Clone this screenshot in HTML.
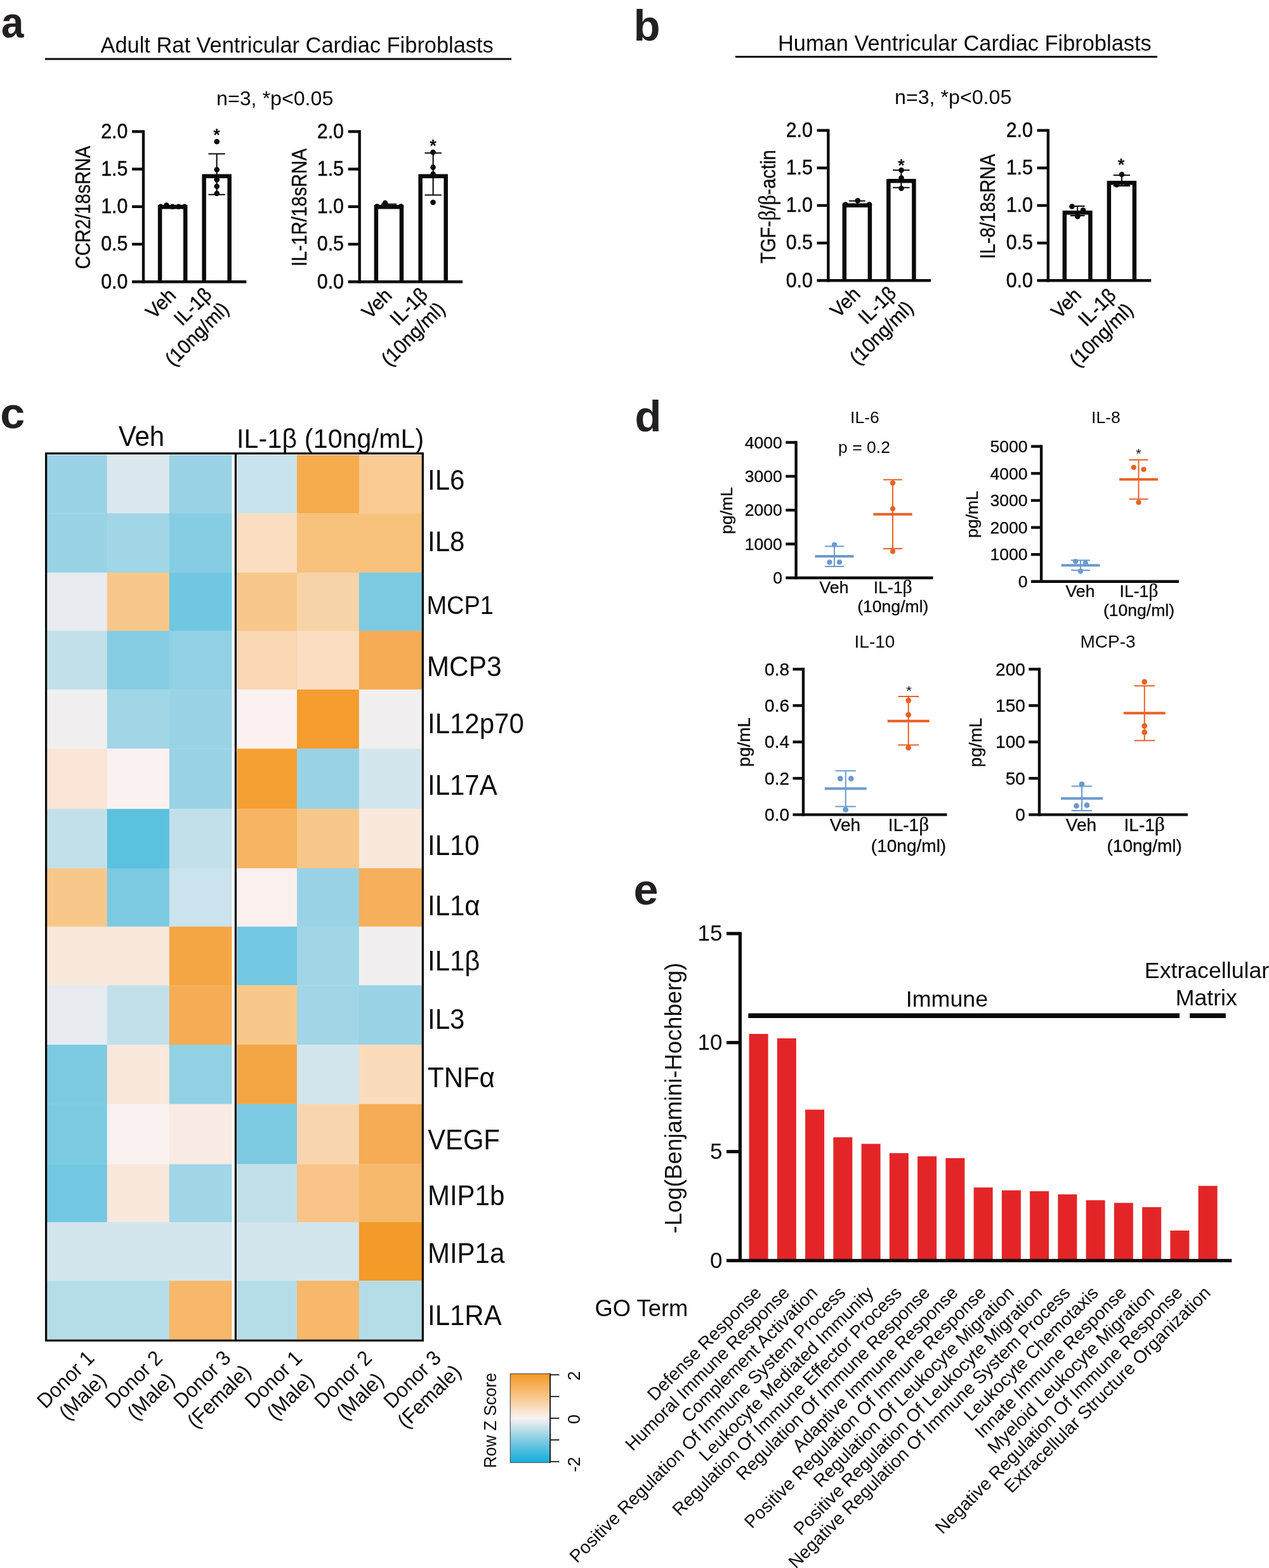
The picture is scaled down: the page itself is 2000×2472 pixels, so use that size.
<!DOCTYPE html>
<html lang="en">
<head>
<meta charset="utf-8">
<title>Figure</title>
<style>
html,body{margin:0;padding:0;background:#fff;}
body{width:2000px;height:2472px;overflow:hidden;}
svg{display:block;font-family:"Liberation Sans", sans-serif;fill:#0a0a0a;}
</style>
</head>
<body>
<svg width="2000" height="2472" viewBox="0 0 2000 2472">
<rect width="2000" height="2472" fill="#fff"/>
<!-- panel labels -->
<text transform="translate(1.90 59.40) scale(0.96 1.03)" font-size="66.5" font-weight="bold" fill="#231f20">a</text>
<text transform="translate(998.40 64.00) scale(1.035 1.03)" font-size="66.5" font-weight="bold" fill="#231f20">b</text>
<text transform="translate(0.30 675.00) scale(1.055 1.03)" font-size="66.5" font-weight="bold" fill="#231f20">c</text>
<text transform="translate(1000.60 680.00) scale(1.035 1.03)" font-size="66.5" font-weight="bold" fill="#231f20">d</text>
<text transform="translate(998.50 1426.40) scale(1.055 1.03)" font-size="66.5" font-weight="bold" fill="#231f20">e</text>
<!-- titles -->
<text transform="translate(158.50 83.30) scale(1.0 1.0)" font-size="34.4">Adult Rat Ventricular Cardiac Fibroblasts</text>
<line x1="71.00" y1="93.00" x2="806.00" y2="93.00" stroke="#0a0a0a" stroke-width="3"/>
<text transform="translate(1226.00 80.00) scale(1.0 1.0)" font-size="34.4">Human Ventricular Cardiac Fibroblasts</text>
<line x1="1159.00" y1="89.50" x2="1824.00" y2="89.50" stroke="#0a0a0a" stroke-width="3"/>
<text transform="translate(341.00 166.30) scale(1.0 1.0)" font-size="32.2">n=3, *p&lt;0.05</text>
<text transform="translate(1410.00 164.00) scale(1.0 1.0)" font-size="32.2">n=3, *p&lt;0.05</text>
<!-- chart a1 -->
<path d="M252.10 444.20 V326.25 H292.15 V444.20" fill="#fff" stroke="#0a0a0a" stroke-width="6.5"/>
<path d="M321.60 444.20 V277.75 H361.65 V444.20" fill="#fff" stroke="#0a0a0a" stroke-width="6.5"/>
<line x1="225.95" y1="205.20" x2="225.95" y2="446.40" stroke="#0a0a0a" stroke-width="4.4"/>
<line x1="208.00" y1="444.20" x2="388.30" y2="444.20" stroke="#0a0a0a" stroke-width="4.4"/>
<line x1="208.00" y1="207.40" x2="225.95" y2="207.40" stroke="#0a0a0a" stroke-width="4.4"/>
<text transform="translate(201.40 217.70) scale(1.0 1.07)" font-size="30.4" text-anchor="end" stroke="#0a0a0a" stroke-width="0.45" stroke-linejoin="round">2.0</text>
<line x1="208.00" y1="266.60" x2="225.95" y2="266.60" stroke="#0a0a0a" stroke-width="4.4"/>
<text transform="translate(201.40 276.90) scale(1.0 1.07)" font-size="30.4" text-anchor="end" stroke="#0a0a0a" stroke-width="0.45" stroke-linejoin="round">1.5</text>
<line x1="208.00" y1="325.80" x2="225.95" y2="325.80" stroke="#0a0a0a" stroke-width="4.4"/>
<text transform="translate(201.40 336.10) scale(1.0 1.07)" font-size="30.4" text-anchor="end" stroke="#0a0a0a" stroke-width="0.45" stroke-linejoin="round">1.0</text>
<line x1="208.00" y1="385.00" x2="225.95" y2="385.00" stroke="#0a0a0a" stroke-width="4.4"/>
<text transform="translate(201.40 395.30) scale(1.0 1.07)" font-size="30.4" text-anchor="end" stroke="#0a0a0a" stroke-width="0.45" stroke-linejoin="round">0.5</text>
<text transform="translate(201.40 454.50) scale(1.0 1.07)" font-size="30.4" text-anchor="end" stroke="#0a0a0a" stroke-width="0.45" stroke-linejoin="round">0.0</text>
<text transform="translate(142.00 327.00) rotate(-90) scale(0.86 1.0)" font-size="33.6" text-anchor="middle" stroke="#0a0a0a" stroke-width="0.4" stroke-linejoin="round">CCR2/18sRNA</text>
<circle cx="253.50" cy="325.80" r="4.3" fill="#0a0a0a"/>
<circle cx="262.50" cy="323.60" r="4.3" fill="#0a0a0a"/>
<circle cx="272.00" cy="325.80" r="4.3" fill="#0a0a0a"/>
<circle cx="281.50" cy="325.80" r="4.3" fill="#0a0a0a"/>
<circle cx="290.80" cy="325.80" r="4.3" fill="#0a0a0a"/>
<line x1="341.62" y1="242.50" x2="341.62" y2="306.80" stroke="#0a0a0a" stroke-width="2.1"/>
<line x1="329.23" y1="242.50" x2="354.02" y2="242.50" stroke="#0a0a0a" stroke-width="2.1" stroke-linecap="round"/>
<line x1="329.23" y1="306.80" x2="354.02" y2="306.80" stroke="#0a0a0a" stroke-width="2.1" stroke-linecap="round"/>
<circle cx="341.75" cy="223.30" r="4.3" fill="#0a0a0a"/>
<circle cx="341.75" cy="267.50" r="4.3" fill="#0a0a0a"/>
<circle cx="341.75" cy="283.30" r="4.3" fill="#0a0a0a"/>
<circle cx="341.75" cy="293.80" r="4.3" fill="#0a0a0a"/>
<circle cx="341.75" cy="305.00" r="4.3" fill="#0a0a0a"/>
<text transform="translate(341.50 222.10) scale(1.0 1.0)" font-size="27" text-anchor="middle" font-weight="bold">*</text>
<text transform="translate(279.00 467.70) rotate(-45) scale(1.0 1.04)" font-size="30" text-anchor="end" stroke="#0a0a0a" stroke-width="0.4" stroke-linejoin="round">Veh</text>
<g transform="translate(335.40 466.20) rotate(-45) scale(1.0 1.04)" font-size="30" text-anchor="end" stroke="#0a0a0a" stroke-width="0.4" stroke-linejoin="round">
<text x="0.00" y="0.00">IL-1β</text>
<text x="3.00" y="34.13">(10ng/ml)</text>
</g>
<!-- chart a2 -->
<path d="M592.85 444.20 V326.25 H632.90 V444.20" fill="#fff" stroke="#0a0a0a" stroke-width="6.5"/>
<path d="M662.60 444.20 V277.75 H702.65 V444.20" fill="#fff" stroke="#0a0a0a" stroke-width="6.5"/>
<line x1="566.65" y1="205.20" x2="566.65" y2="446.40" stroke="#0a0a0a" stroke-width="4.4"/>
<line x1="548.60" y1="444.20" x2="729.00" y2="444.20" stroke="#0a0a0a" stroke-width="4.4"/>
<line x1="548.60" y1="207.40" x2="566.65" y2="207.40" stroke="#0a0a0a" stroke-width="4.4"/>
<text transform="translate(542.00 217.70) scale(1.0 1.07)" font-size="30.4" text-anchor="end" stroke="#0a0a0a" stroke-width="0.45" stroke-linejoin="round">2.0</text>
<line x1="548.60" y1="266.60" x2="566.65" y2="266.60" stroke="#0a0a0a" stroke-width="4.4"/>
<text transform="translate(542.00 276.90) scale(1.0 1.07)" font-size="30.4" text-anchor="end" stroke="#0a0a0a" stroke-width="0.45" stroke-linejoin="round">1.5</text>
<line x1="548.60" y1="325.80" x2="566.65" y2="325.80" stroke="#0a0a0a" stroke-width="4.4"/>
<text transform="translate(542.00 336.10) scale(1.0 1.07)" font-size="30.4" text-anchor="end" stroke="#0a0a0a" stroke-width="0.45" stroke-linejoin="round">1.0</text>
<line x1="548.60" y1="385.00" x2="566.65" y2="385.00" stroke="#0a0a0a" stroke-width="4.4"/>
<text transform="translate(542.00 395.30) scale(1.0 1.07)" font-size="30.4" text-anchor="end" stroke="#0a0a0a" stroke-width="0.45" stroke-linejoin="round">0.5</text>
<text transform="translate(542.00 454.50) scale(1.0 1.07)" font-size="30.4" text-anchor="end" stroke="#0a0a0a" stroke-width="0.45" stroke-linejoin="round">0.0</text>
<text transform="translate(482.50 327.00) rotate(-90) scale(0.86 1.0)" font-size="33.6" text-anchor="middle" stroke="#0a0a0a" stroke-width="0.4" stroke-linejoin="round">IL-1R/18sRNA</text>
<line x1="612.88" y1="321.80" x2="612.88" y2="325.00" stroke="#0a0a0a" stroke-width="2.1"/>
<line x1="601.58" y1="321.80" x2="624.17" y2="321.80" stroke="#0a0a0a" stroke-width="2.1" stroke-linecap="round"/>
<line x1="601.58" y1="325.00" x2="624.17" y2="325.00" stroke="#0a0a0a" stroke-width="2.1" stroke-linecap="round"/>
<circle cx="594.30" cy="325.50" r="4.3" fill="#0a0a0a"/>
<circle cx="607.00" cy="320.00" r="4.3" fill="#0a0a0a"/>
<circle cx="632.00" cy="325.50" r="4.3" fill="#0a0a0a"/>
<line x1="682.62" y1="241.30" x2="682.62" y2="307.50" stroke="#0a0a0a" stroke-width="2.1"/>
<line x1="670.23" y1="241.30" x2="695.02" y2="241.30" stroke="#0a0a0a" stroke-width="2.1" stroke-linecap="round"/>
<line x1="670.23" y1="307.50" x2="695.02" y2="307.50" stroke="#0a0a0a" stroke-width="2.1" stroke-linecap="round"/>
<circle cx="682.50" cy="240.00" r="4.3" fill="#0a0a0a"/>
<circle cx="682.50" cy="263.80" r="4.3" fill="#0a0a0a"/>
<circle cx="682.50" cy="274.50" r="4.3" fill="#0a0a0a"/>
<circle cx="682.50" cy="319.00" r="4.3" fill="#0a0a0a"/>
<text transform="translate(682.40 239.40) scale(1.0 1.0)" font-size="27" text-anchor="middle" font-weight="bold">*</text>
<text transform="translate(619.60 467.70) rotate(-45) scale(1.0 1.04)" font-size="30" text-anchor="end" stroke="#0a0a0a" stroke-width="0.4" stroke-linejoin="round">Veh</text>
<g transform="translate(676.00 466.20) rotate(-45) scale(1.0 1.04)" font-size="30" text-anchor="end" stroke="#0a0a0a" stroke-width="0.4" stroke-linejoin="round">
<text x="0.00" y="0.00">IL-1β</text>
<text x="3.00" y="34.13">(10ng/ml)</text>
</g>
<!-- chart b1 -->
<path d="M1330.85 442.30 V323.75 H1370.90 V442.30" fill="#fff" stroke="#0a0a0a" stroke-width="6.5"/>
<path d="M1400.35 442.30 V285.25 H1440.40 V442.30" fill="#fff" stroke="#0a0a0a" stroke-width="6.5"/>
<line x1="1305.35" y1="203.40" x2="1305.35" y2="444.50" stroke="#0a0a0a" stroke-width="4.4"/>
<line x1="1287.50" y1="442.30" x2="1467.00" y2="442.30" stroke="#0a0a0a" stroke-width="4.4"/>
<line x1="1287.50" y1="205.60" x2="1305.35" y2="205.60" stroke="#0a0a0a" stroke-width="4.4"/>
<text transform="translate(1280.90 215.90) scale(1.0 1.07)" font-size="30.4" text-anchor="end" stroke="#0a0a0a" stroke-width="0.45" stroke-linejoin="round">2.0</text>
<line x1="1287.50" y1="264.77" x2="1305.35" y2="264.77" stroke="#0a0a0a" stroke-width="4.4"/>
<text transform="translate(1280.90 275.07) scale(1.0 1.07)" font-size="30.4" text-anchor="end" stroke="#0a0a0a" stroke-width="0.45" stroke-linejoin="round">1.5</text>
<line x1="1287.50" y1="323.95" x2="1305.35" y2="323.95" stroke="#0a0a0a" stroke-width="4.4"/>
<text transform="translate(1280.90 334.25) scale(1.0 1.07)" font-size="30.4" text-anchor="end" stroke="#0a0a0a" stroke-width="0.45" stroke-linejoin="round">1.0</text>
<line x1="1287.50" y1="383.12" x2="1305.35" y2="383.12" stroke="#0a0a0a" stroke-width="4.4"/>
<text transform="translate(1280.90 393.43) scale(1.0 1.07)" font-size="30.4" text-anchor="end" stroke="#0a0a0a" stroke-width="0.45" stroke-linejoin="round">0.5</text>
<text transform="translate(1280.90 452.60) scale(1.0 1.07)" font-size="30.4" text-anchor="end" stroke="#0a0a0a" stroke-width="0.45" stroke-linejoin="round">0.0</text>
<text transform="translate(1222.00 326.00) rotate(-90) scale(0.86 1.0)" font-size="33.6" text-anchor="middle" stroke="#0a0a0a" stroke-width="0.4" stroke-linejoin="round">TGF-<tspan font-family='"Liberation Serif", serif' font-size='1.12em'>β</tspan>/<tspan font-family='"Liberation Serif", serif' font-size='1.12em'>β</tspan>-actin</text>
<line x1="1350.88" y1="316.80" x2="1350.88" y2="322.00" stroke="#0a0a0a" stroke-width="2.1"/>
<line x1="1338.88" y1="316.80" x2="1362.88" y2="316.80" stroke="#0a0a0a" stroke-width="2.1" stroke-linecap="round"/>
<line x1="1338.88" y1="322.00" x2="1362.88" y2="322.00" stroke="#0a0a0a" stroke-width="2.1" stroke-linecap="round"/>
<circle cx="1332.50" cy="322.50" r="4.3" fill="#0a0a0a"/>
<circle cx="1351.75" cy="316.30" r="4.3" fill="#0a0a0a"/>
<circle cx="1370.00" cy="322.50" r="4.3" fill="#0a0a0a"/>
<line x1="1420.38" y1="268.30" x2="1420.38" y2="295.80" stroke="#0a0a0a" stroke-width="2.1"/>
<line x1="1407.97" y1="268.30" x2="1432.78" y2="268.30" stroke="#0a0a0a" stroke-width="2.1" stroke-linecap="round"/>
<line x1="1407.97" y1="295.80" x2="1432.78" y2="295.80" stroke="#0a0a0a" stroke-width="2.1" stroke-linecap="round"/>
<circle cx="1420.50" cy="268.30" r="4.3" fill="#0a0a0a"/>
<circle cx="1420.50" cy="280.50" r="4.3" fill="#0a0a0a"/>
<circle cx="1420.50" cy="297.00" r="4.3" fill="#0a0a0a"/>
<text transform="translate(1420.60 269.80) scale(1.0 1.0)" font-size="27" text-anchor="middle" font-weight="bold">*</text>
<text transform="translate(1357.80 465.80) rotate(-45) scale(1.0 1.04)" font-size="30" text-anchor="end" stroke="#0a0a0a" stroke-width="0.4" stroke-linejoin="round">Veh</text>
<g transform="translate(1414.20 464.30) rotate(-45) scale(1.0 1.04)" font-size="30" text-anchor="end" stroke="#0a0a0a" stroke-width="0.4" stroke-linejoin="round">
<text x="0.00" y="0.00">IL-1β</text>
<text x="3.00" y="34.13">(10ng/ml)</text>
</g>
<!-- chart b2 -->
<path d="M1677.85 442.30 V335.25 H1718.40 V442.30" fill="#fff" stroke="#0a0a0a" stroke-width="6.5"/>
<path d="M1747.85 442.30 V288.25 H1787.90 V442.30" fill="#fff" stroke="#0a0a0a" stroke-width="6.5"/>
<line x1="1651.85" y1="203.40" x2="1651.85" y2="444.50" stroke="#0a0a0a" stroke-width="4.4"/>
<line x1="1634.50" y1="442.30" x2="1814.30" y2="442.30" stroke="#0a0a0a" stroke-width="4.4"/>
<line x1="1634.50" y1="205.60" x2="1651.85" y2="205.60" stroke="#0a0a0a" stroke-width="4.4"/>
<text transform="translate(1627.90 215.90) scale(1.0 1.07)" font-size="30.4" text-anchor="end" stroke="#0a0a0a" stroke-width="0.45" stroke-linejoin="round">2.0</text>
<line x1="1634.50" y1="264.77" x2="1651.85" y2="264.77" stroke="#0a0a0a" stroke-width="4.4"/>
<text transform="translate(1627.90 275.07) scale(1.0 1.07)" font-size="30.4" text-anchor="end" stroke="#0a0a0a" stroke-width="0.45" stroke-linejoin="round">1.5</text>
<line x1="1634.50" y1="323.95" x2="1651.85" y2="323.95" stroke="#0a0a0a" stroke-width="4.4"/>
<text transform="translate(1627.90 334.25) scale(1.0 1.07)" font-size="30.4" text-anchor="end" stroke="#0a0a0a" stroke-width="0.45" stroke-linejoin="round">1.0</text>
<line x1="1634.50" y1="383.12" x2="1651.85" y2="383.12" stroke="#0a0a0a" stroke-width="4.4"/>
<text transform="translate(1627.90 393.43) scale(1.0 1.07)" font-size="30.4" text-anchor="end" stroke="#0a0a0a" stroke-width="0.45" stroke-linejoin="round">0.5</text>
<text transform="translate(1627.90 452.60) scale(1.0 1.07)" font-size="30.4" text-anchor="end" stroke="#0a0a0a" stroke-width="0.45" stroke-linejoin="round">0.0</text>
<text transform="translate(1568.20 325.50) rotate(-90) scale(0.86 1.0)" font-size="33.6" text-anchor="middle" stroke="#0a0a0a" stroke-width="0.4" stroke-linejoin="round">IL-8/18sRNA</text>
<line x1="1698.12" y1="325.00" x2="1698.12" y2="340.00" stroke="#0a0a0a" stroke-width="2.1"/>
<line x1="1687.53" y1="325.00" x2="1708.72" y2="325.00" stroke="#0a0a0a" stroke-width="2.1" stroke-linecap="round"/>
<line x1="1687.53" y1="340.00" x2="1708.72" y2="340.00" stroke="#0a0a0a" stroke-width="2.1" stroke-linecap="round"/>
<circle cx="1689.50" cy="325.50" r="4.3" fill="#0a0a0a"/>
<circle cx="1707.00" cy="331.30" r="4.3" fill="#0a0a0a"/>
<circle cx="1698.30" cy="341.30" r="4.3" fill="#0a0a0a"/>
<line x1="1767.88" y1="276.30" x2="1767.88" y2="293.00" stroke="#0a0a0a" stroke-width="2.1"/>
<line x1="1755.47" y1="276.30" x2="1780.28" y2="276.30" stroke="#0a0a0a" stroke-width="2.1" stroke-linecap="round"/>
<line x1="1755.47" y1="293.00" x2="1780.28" y2="293.00" stroke="#0a0a0a" stroke-width="2.1" stroke-linecap="round"/>
<circle cx="1768.00" cy="275.00" r="4.3" fill="#0a0a0a"/>
<circle cx="1760.00" cy="291.30" r="4.3" fill="#0a0a0a"/>
<circle cx="1776.30" cy="290.00" r="4.3" fill="#0a0a0a"/>
<text transform="translate(1767.00 268.60) scale(1.0 1.0)" font-size="27" text-anchor="middle" font-weight="bold">*</text>
<text transform="translate(1706.00 467.30) rotate(-45) scale(1.0 1.04)" font-size="30" text-anchor="end" stroke="#0a0a0a" stroke-width="0.4" stroke-linejoin="round">Veh</text>
<g transform="translate(1760.70 467.60) rotate(-45) scale(1.0 1.04)" font-size="30" text-anchor="end" stroke="#0a0a0a" stroke-width="0.4" stroke-linejoin="round">
<text x="0.00" y="0.00">IL-1β</text>
<text x="3.00" y="34.13">(10ng/ml)</text>
</g>
<!-- heatmap -->
<rect x="74.00" y="717.60" width="95.00" height="91.90" fill="#9AD3E6"/>
<rect x="373.60" y="717.60" width="94.70" height="91.90" fill="#C9E3EC"/>
<rect x="168.70" y="717.60" width="98.40" height="91.90" fill="#DBE8EE"/>
<rect x="468.00" y="717.60" width="98.10" height="91.90" fill="#F6AB4D"/>
<rect x="266.80" y="717.60" width="98.70" height="91.90" fill="#9AD3E6"/>
<rect x="565.80" y="717.60" width="99.10" height="91.90" fill="#F9CB93"/>
<text transform="translate(674.00 771.75) scale(1.0 1.06)" font-size="42">IL6</text>
<rect x="74.00" y="809.20" width="95.00" height="93.80" fill="#9AD3E6"/>
<rect x="373.60" y="809.20" width="94.70" height="93.80" fill="#FBDDC1"/>
<rect x="168.70" y="809.20" width="98.40" height="93.80" fill="#A1D6E6"/>
<rect x="468.00" y="809.20" width="98.10" height="93.80" fill="#F8C27D"/>
<rect x="266.80" y="809.20" width="98.70" height="93.80" fill="#86CDE3"/>
<rect x="565.80" y="809.20" width="99.10" height="93.80" fill="#F8C27D"/>
<text transform="translate(674.00 869.25) scale(1.0 1.06)" font-size="42">IL8</text>
<rect x="74.00" y="902.70" width="95.00" height="92.20" fill="#E8EBEF"/>
<rect x="373.60" y="902.70" width="94.70" height="92.20" fill="#F8C88A"/>
<rect x="168.70" y="902.70" width="98.40" height="92.20" fill="#F8C88A"/>
<rect x="468.00" y="902.70" width="98.10" height="92.20" fill="#F7D4A7"/>
<rect x="266.80" y="902.70" width="98.70" height="92.20" fill="#70C7E1"/>
<rect x="565.80" y="902.70" width="99.10" height="92.20" fill="#7CCAE2"/>
<text transform="translate(672.40 968.25) scale(1.0 1.06)" font-size="38">MCP1</text>
<rect x="74.00" y="994.60" width="95.00" height="92.80" fill="#C2E0EA"/>
<rect x="373.60" y="994.60" width="94.70" height="92.80" fill="#F9D7B3"/>
<rect x="168.70" y="994.60" width="98.40" height="92.80" fill="#86CDE3"/>
<rect x="468.00" y="994.60" width="98.10" height="92.80" fill="#FBDDC1"/>
<rect x="266.80" y="994.60" width="98.70" height="92.80" fill="#92D1E4"/>
<rect x="565.80" y="994.60" width="99.10" height="92.80" fill="#F6AC55"/>
<text transform="translate(672.80 1065.50) scale(1.0 1.06)" font-size="42.4">MCP3</text>
<rect x="74.00" y="1087.10" width="95.00" height="93.50" fill="#F1EFF0"/>
<rect x="373.60" y="1087.10" width="94.70" height="93.50" fill="#FAF1F0"/>
<rect x="168.70" y="1087.10" width="98.40" height="93.50" fill="#A1D6E6"/>
<rect x="468.00" y="1087.10" width="98.10" height="93.50" fill="#F59D2E"/>
<rect x="266.80" y="1087.10" width="98.70" height="93.50" fill="#9AD3E6"/>
<rect x="565.80" y="1087.10" width="99.10" height="93.50" fill="#F1EFF0"/>
<text transform="translate(674.00 1156.25) scale(1.0 1.06)" font-size="42">IL12p70</text>
<rect x="74.00" y="1180.30" width="95.00" height="95.30" fill="#FAE5D6"/>
<rect x="373.60" y="1180.30" width="94.70" height="95.30" fill="#F5A033"/>
<rect x="168.70" y="1180.30" width="98.40" height="95.30" fill="#FAF1F1"/>
<rect x="468.00" y="1180.30" width="98.10" height="95.30" fill="#9AD3E6"/>
<rect x="266.80" y="1180.30" width="98.70" height="95.30" fill="#9AD3E6"/>
<rect x="565.80" y="1180.30" width="99.10" height="95.30" fill="#D3E6EE"/>
<text transform="translate(674.00 1253.00) scale(1.0 1.06)" font-size="42">IL17A</text>
<rect x="74.00" y="1275.30" width="95.00" height="93.80" fill="#C2E0EA"/>
<rect x="373.60" y="1275.30" width="94.70" height="93.80" fill="#F7B462"/>
<rect x="168.70" y="1275.30" width="98.40" height="93.80" fill="#5CC1DF"/>
<rect x="468.00" y="1275.30" width="98.10" height="93.80" fill="#F8C88A"/>
<rect x="266.80" y="1275.30" width="98.70" height="93.80" fill="#C2E0EA"/>
<rect x="565.80" y="1275.30" width="99.10" height="93.80" fill="#F9E8DC"/>
<text transform="translate(674.00 1347.50) scale(1.0 1.06)" font-size="42">IL10</text>
<rect x="74.00" y="1368.80" width="95.00" height="92.30" fill="#F8C88A"/>
<rect x="373.60" y="1368.80" width="94.70" height="92.30" fill="#FAF0EE"/>
<rect x="168.70" y="1368.80" width="98.40" height="92.30" fill="#7CCAE2"/>
<rect x="468.00" y="1368.80" width="98.10" height="92.30" fill="#9AD3E6"/>
<rect x="266.80" y="1368.80" width="98.70" height="92.30" fill="#CBE3EC"/>
<rect x="565.80" y="1368.80" width="99.10" height="92.30" fill="#F6AF5A"/>
<text transform="translate(674.00 1442.50) scale(1.0 1.06)" font-size="42">IL1α</text>
<rect x="74.00" y="1460.80" width="95.00" height="92.80" fill="#F9E8DC"/>
<rect x="373.60" y="1460.80" width="94.70" height="92.80" fill="#72C8E1"/>
<rect x="168.70" y="1460.80" width="98.40" height="92.80" fill="#F9E8DC"/>
<rect x="468.00" y="1460.80" width="98.10" height="92.80" fill="#A1D6E6"/>
<rect x="266.80" y="1460.80" width="98.70" height="92.80" fill="#F5A644"/>
<rect x="565.80" y="1460.80" width="99.10" height="92.80" fill="#F1EFF0"/>
<text transform="translate(674.00 1529.50) scale(1.0 1.06)" font-size="42">IL1β</text>
<rect x="74.00" y="1553.30" width="95.00" height="94.00" fill="#E8EBEF"/>
<rect x="373.60" y="1553.30" width="94.70" height="94.00" fill="#F8C88A"/>
<rect x="168.70" y="1553.30" width="98.40" height="94.00" fill="#C2E0EA"/>
<rect x="468.00" y="1553.30" width="98.10" height="94.00" fill="#A1D6E6"/>
<rect x="266.80" y="1553.30" width="98.70" height="94.00" fill="#F6AC55"/>
<rect x="565.80" y="1553.30" width="99.10" height="94.00" fill="#9AD3E6"/>
<text transform="translate(674.00 1622.00) scale(1.0 1.06)" font-size="42">IL3</text>
<rect x="74.00" y="1647.00" width="95.00" height="93.90" fill="#7CCAE2"/>
<rect x="373.60" y="1647.00" width="94.70" height="93.90" fill="#F5A644"/>
<rect x="168.70" y="1647.00" width="98.40" height="93.90" fill="#F9E8DC"/>
<rect x="468.00" y="1647.00" width="98.10" height="93.90" fill="#D3E6EE"/>
<rect x="266.80" y="1647.00" width="98.70" height="93.90" fill="#92D1E4"/>
<rect x="565.80" y="1647.00" width="99.10" height="93.90" fill="#FADCBD"/>
<text transform="translate(674.00 1713.75) scale(1.0 1.06)" font-size="42">TNFα</text>
<rect x="74.00" y="1740.60" width="95.00" height="95.10" fill="#7CCAE2"/>
<rect x="373.60" y="1740.60" width="94.70" height="95.10" fill="#7CCAE2"/>
<rect x="168.70" y="1740.60" width="98.40" height="95.10" fill="#FAF1F1"/>
<rect x="468.00" y="1740.60" width="98.10" height="95.10" fill="#F8D5AF"/>
<rect x="266.80" y="1740.60" width="98.70" height="95.10" fill="#F9EBE4"/>
<rect x="565.80" y="1740.60" width="99.10" height="95.10" fill="#F6AC55"/>
<text transform="translate(674.30 1811.75) scale(1.0 1.06)" font-size="41.7">VEGF</text>
<rect x="74.00" y="1835.40" width="95.00" height="91.70" fill="#72C8E1"/>
<rect x="373.60" y="1835.40" width="94.70" height="91.70" fill="#C2E0EA"/>
<rect x="168.70" y="1835.40" width="98.40" height="91.70" fill="#F9E8DC"/>
<rect x="468.00" y="1835.40" width="98.10" height="91.70" fill="#F9C487"/>
<rect x="266.80" y="1835.40" width="98.70" height="91.70" fill="#A1D6E6"/>
<rect x="565.80" y="1835.40" width="99.10" height="91.70" fill="#F7B96C"/>
<text transform="translate(673.90 1900.00) scale(1.0 1.06)" font-size="42">MIP1b</text>
<rect x="74.00" y="1926.80" width="95.00" height="92.70" fill="#D3E6EE"/>
<rect x="373.60" y="1926.80" width="94.70" height="92.70" fill="#D3E6EE"/>
<rect x="168.70" y="1926.80" width="98.40" height="92.70" fill="#D3E6EE"/>
<rect x="468.00" y="1926.80" width="98.10" height="92.70" fill="#D3E6EE"/>
<rect x="266.80" y="1926.80" width="98.70" height="92.70" fill="#D3E6EE"/>
<rect x="565.80" y="1926.80" width="99.10" height="92.70" fill="#F39A29"/>
<text transform="translate(673.90 1991.25) scale(1.0 1.06)" font-size="42">MIP1a</text>
<rect x="74.00" y="2019.20" width="95.00" height="92.70" fill="#B5DDE8"/>
<rect x="373.60" y="2019.20" width="94.70" height="92.70" fill="#B5DDE8"/>
<rect x="168.70" y="2019.20" width="98.40" height="92.70" fill="#B5DDE8"/>
<rect x="468.00" y="2019.20" width="98.10" height="92.70" fill="#F7B86C"/>
<rect x="266.80" y="2019.20" width="98.70" height="92.70" fill="#F7B86C"/>
<rect x="565.80" y="2019.20" width="99.10" height="92.70" fill="#B5DDE8"/>
<text transform="translate(674.00 2088.75) scale(1.0 1.06)" font-size="42">IL1RA</text>
<path d="M72.6 2113.3 V714.9 H666.3 V2113.3 Z M371.4 714.9 V2113.3" fill="none" stroke="#0a0a0a" stroke-width="3.3"/>
<text transform="translate(223.00 702.50) scale(1.0 1.06)" font-size="42" text-anchor="middle">Veh</text>
<text transform="translate(373.00 706.30) scale(1.0 1.06)" font-size="41" letter-spacing="0.2">IL-1β (10ng/mL)</text>
<g transform="translate(111.20 2182.50) rotate(-45) scale(1.0 1.04)" font-size="31.4" text-anchor="middle">
<text x="0.00" y="0.00">Donor 1</text>
<text x="0.00" y="36.25">(Male)</text>
</g>
<g transform="translate(218.70 2182.50) rotate(-45) scale(1.0 1.04)" font-size="31.4" text-anchor="middle">
<text x="0.00" y="0.00">Donor 2</text>
<text x="0.00" y="36.25">(Male)</text>
</g>
<g transform="translate(326.20 2182.50) rotate(-45) scale(1.0 1.04)" font-size="31.4" text-anchor="middle">
<text x="0.00" y="0.00">Donor 3</text>
<text x="0.00" y="36.25">(Female)</text>
</g>
<g transform="translate(438.70 2182.50) rotate(-45) scale(1.0 1.04)" font-size="31.4" text-anchor="middle">
<text x="0.00" y="0.00">Donor 1</text>
<text x="0.00" y="36.25">(Male)</text>
</g>
<g transform="translate(548.50 2182.50) rotate(-45) scale(1.0 1.04)" font-size="31.4" text-anchor="middle">
<text x="0.00" y="0.00">Donor 2</text>
<text x="0.00" y="36.25">(Male)</text>
</g>
<g transform="translate(657.50 2182.50) rotate(-45) scale(1.0 1.04)" font-size="31.4" text-anchor="middle">
<text x="0.00" y="0.00">Donor 3</text>
<text x="0.00" y="36.25">(Female)</text>
</g>
<defs><linearGradient id="zg" x1="0" y1="0" x2="0" y2="1"><stop offset="0" stop-color="#F39A27"/><stop offset="0.25" stop-color="#F8C486"/><stop offset="0.5" stop-color="#FAF3F3"/><stop offset="0.75" stop-color="#7FCBE3"/><stop offset="1" stop-color="#12ADDC"/></linearGradient></defs>
<rect x="804.20" y="2165.80" width="62.60" height="140.00" fill="url(#zg)" stroke="#3a3a3a" stroke-width="1"/>
<line x1="867.10" y1="2165.30" x2="867.10" y2="2306.30" stroke="#0a0a0a" stroke-width="1.6"/>
<line x1="867.00" y1="2167.40" x2="881.50" y2="2167.40" stroke="#0a0a0a" stroke-width="1.7"/>
<text transform="translate(914.30 2168.90) rotate(-90) scale(1.0 1.0)" font-size="27" text-anchor="middle">2</text>
<line x1="867.00" y1="2201.63" x2="881.50" y2="2201.63" stroke="#0a0a0a" stroke-width="1.7"/>
<line x1="867.00" y1="2235.86" x2="881.50" y2="2235.86" stroke="#0a0a0a" stroke-width="1.7"/>
<text transform="translate(914.30 2237.36) rotate(-90) scale(1.0 1.0)" font-size="27" text-anchor="middle">0</text>
<line x1="867.00" y1="2270.09" x2="881.50" y2="2270.09" stroke="#0a0a0a" stroke-width="1.7"/>
<line x1="867.00" y1="2304.32" x2="881.50" y2="2304.32" stroke="#0a0a0a" stroke-width="1.7"/>
<text transform="translate(914.30 2308.82) rotate(-90) scale(1.0 1.0)" font-size="27" text-anchor="middle">-2</text>
<text transform="translate(782.00 2239.50) rotate(-90) scale(1.0 1.05)" font-size="26" text-anchor="middle">Row Z Score</text>
<!-- d1 IL-6 -->
<line x1="1254.60" y1="695.30" x2="1254.60" y2="913.20" stroke="#0a0a0a" stroke-width="4.4"/>
<line x1="1238.30" y1="911.00" x2="1470.50" y2="911.00" stroke="#0a0a0a" stroke-width="4.4"/>
<line x1="1238.30" y1="697.50" x2="1254.60" y2="697.50" stroke="#0a0a0a" stroke-width="4.4"/>
<text transform="translate(1232.90 706.70) scale(1.085 1.07)" font-size="24.5" text-anchor="end" stroke="#0a0a0a" stroke-width="0.3" stroke-linejoin="round">4000</text>
<line x1="1238.30" y1="750.88" x2="1254.60" y2="750.88" stroke="#0a0a0a" stroke-width="4.4"/>
<text transform="translate(1232.90 760.07) scale(1.085 1.07)" font-size="24.5" text-anchor="end" stroke="#0a0a0a" stroke-width="0.3" stroke-linejoin="round">3000</text>
<line x1="1238.30" y1="804.25" x2="1254.60" y2="804.25" stroke="#0a0a0a" stroke-width="4.4"/>
<text transform="translate(1232.90 813.45) scale(1.085 1.07)" font-size="24.5" text-anchor="end" stroke="#0a0a0a" stroke-width="0.3" stroke-linejoin="round">2000</text>
<line x1="1238.30" y1="857.62" x2="1254.60" y2="857.62" stroke="#0a0a0a" stroke-width="4.4"/>
<text transform="translate(1232.90 866.82) scale(1.085 1.07)" font-size="24.5" text-anchor="end" stroke="#0a0a0a" stroke-width="0.3" stroke-linejoin="round">1000</text>
<text transform="translate(1232.90 920.20) scale(1.085 1.07)" font-size="24.5" text-anchor="end" stroke="#0a0a0a" stroke-width="0.3" stroke-linejoin="round">0</text>
<text transform="translate(1363.00 667.00) scale(1.085 1.07)" font-size="24.5" text-anchor="middle">IL-6</text>
<text transform="translate(1153.50 805.00) rotate(-90) scale(1.085 1.07)" font-size="24.5" text-anchor="middle" stroke="#0a0a0a" stroke-width="0.3" stroke-linejoin="round">pg/mL</text>
<line x1="1315.00" y1="861.30" x2="1315.00" y2="893.00" stroke="#6B9ACE" stroke-width="2.0"/>
<line x1="1300.00" y1="861.30" x2="1330.00" y2="861.30" stroke="#6B9ACE" stroke-width="2.0"/>
<line x1="1300.00" y1="893.00" x2="1330.00" y2="893.00" stroke="#6B9ACE" stroke-width="2.0"/>
<line x1="1284.40" y1="877.00" x2="1345.60" y2="877.00" stroke="#6B9ACE" stroke-width="3.9"/>
<circle cx="1315.00" cy="858.80" r="4.1" fill="#6B9ACE"/>
<circle cx="1307.50" cy="886.30" r="4.1" fill="#6B9ACE"/>
<circle cx="1323.00" cy="886.30" r="4.1" fill="#6B9ACE"/>
<line x1="1407.00" y1="756.30" x2="1407.00" y2="865.00" stroke="#E96125" stroke-width="2.0"/>
<line x1="1392.00" y1="756.30" x2="1422.00" y2="756.30" stroke="#E96125" stroke-width="2.0"/>
<line x1="1392.00" y1="865.00" x2="1422.00" y2="865.00" stroke="#E96125" stroke-width="2.0"/>
<line x1="1376.40" y1="810.80" x2="1437.60" y2="810.80" stroke="#E96125" stroke-width="3.9"/>
<circle cx="1407.00" cy="761.30" r="4.1" fill="#E96125"/>
<circle cx="1407.00" cy="802.00" r="4.1" fill="#E96125"/>
<circle cx="1407.00" cy="869.30" r="4.1" fill="#E96125"/>
<text transform="translate(1362.00 713.80) scale(1.085 1.07)" font-size="24.5" text-anchor="middle">p = 0.2</text>
<text transform="translate(1314.50 935.00) scale(1.085 1.07)" font-size="24.5" text-anchor="middle" stroke="#0a0a0a" stroke-width="0.3" stroke-linejoin="round">Veh</text>
<text transform="translate(1407.30 935.00) scale(1.085 1.07)" font-size="24.5" text-anchor="middle" stroke="#0a0a0a" stroke-width="0.3" stroke-linejoin="round">IL-1<tspan font-family='"Liberation Serif", serif' font-size='1.12em'>β</tspan></text>
<text transform="translate(1407.30 965.00) scale(1.085 1.07)" font-size="24.5" text-anchor="middle" stroke="#0a0a0a" stroke-width="0.3" stroke-linejoin="round">(10ng/ml)</text>
<!-- d2 IL-8 -->
<line x1="1641.10" y1="701.55" x2="1641.10" y2="918.95" stroke="#0a0a0a" stroke-width="4.4"/>
<line x1="1625.00" y1="916.75" x2="1858.00" y2="916.75" stroke="#0a0a0a" stroke-width="4.4"/>
<line x1="1625.00" y1="703.75" x2="1641.10" y2="703.75" stroke="#0a0a0a" stroke-width="4.4"/>
<text transform="translate(1619.60 712.95) scale(1.085 1.07)" font-size="24.5" text-anchor="end" stroke="#0a0a0a" stroke-width="0.3" stroke-linejoin="round">5000</text>
<line x1="1625.00" y1="746.35" x2="1641.10" y2="746.35" stroke="#0a0a0a" stroke-width="4.4"/>
<text transform="translate(1619.60 755.55) scale(1.085 1.07)" font-size="24.5" text-anchor="end" stroke="#0a0a0a" stroke-width="0.3" stroke-linejoin="round">4000</text>
<line x1="1625.00" y1="788.95" x2="1641.10" y2="788.95" stroke="#0a0a0a" stroke-width="4.4"/>
<text transform="translate(1619.60 798.15) scale(1.085 1.07)" font-size="24.5" text-anchor="end" stroke="#0a0a0a" stroke-width="0.3" stroke-linejoin="round">3000</text>
<line x1="1625.00" y1="831.55" x2="1641.10" y2="831.55" stroke="#0a0a0a" stroke-width="4.4"/>
<text transform="translate(1619.60 840.75) scale(1.085 1.07)" font-size="24.5" text-anchor="end" stroke="#0a0a0a" stroke-width="0.3" stroke-linejoin="round">2000</text>
<line x1="1625.00" y1="874.15" x2="1641.10" y2="874.15" stroke="#0a0a0a" stroke-width="4.4"/>
<text transform="translate(1619.60 883.35) scale(1.085 1.07)" font-size="24.5" text-anchor="end" stroke="#0a0a0a" stroke-width="0.3" stroke-linejoin="round">1000</text>
<text transform="translate(1619.60 925.95) scale(1.085 1.07)" font-size="24.5" text-anchor="end" stroke="#0a0a0a" stroke-width="0.3" stroke-linejoin="round">0</text>
<text transform="translate(1743.00 667.00) scale(1.085 1.07)" font-size="24.5" text-anchor="middle">IL-8</text>
<text transform="translate(1541.00 811.00) rotate(-90) scale(1.085 1.07)" font-size="24.5" text-anchor="middle" stroke="#0a0a0a" stroke-width="0.3" stroke-linejoin="round">pg/mL</text>
<line x1="1703.00" y1="883.30" x2="1703.00" y2="899.00" stroke="#6B9ACE" stroke-width="2.0"/>
<line x1="1688.00" y1="883.30" x2="1718.00" y2="883.30" stroke="#6B9ACE" stroke-width="2.0"/>
<line x1="1688.00" y1="899.00" x2="1718.00" y2="899.00" stroke="#6B9ACE" stroke-width="2.0"/>
<line x1="1672.60" y1="891.30" x2="1733.40" y2="891.30" stroke="#6B9ACE" stroke-width="3.9"/>
<circle cx="1695.00" cy="885.00" r="4.1" fill="#6B9ACE"/>
<circle cx="1710.80" cy="887.50" r="4.1" fill="#6B9ACE"/>
<circle cx="1703.00" cy="900.50" r="4.1" fill="#6B9ACE"/>
<line x1="1794.50" y1="725.00" x2="1794.50" y2="786.80" stroke="#E96125" stroke-width="2.0"/>
<line x1="1779.50" y1="725.00" x2="1809.50" y2="725.00" stroke="#E96125" stroke-width="2.0"/>
<line x1="1779.50" y1="786.80" x2="1809.50" y2="786.80" stroke="#E96125" stroke-width="2.0"/>
<line x1="1764.10" y1="755.80" x2="1824.90" y2="755.80" stroke="#E96125" stroke-width="3.9"/>
<circle cx="1786.80" cy="736.80" r="4.1" fill="#E96125"/>
<circle cx="1802.50" cy="740.00" r="4.1" fill="#E96125"/>
<circle cx="1794.50" cy="792.00" r="4.1" fill="#E96125"/>
<text transform="translate(1794.50 722.00) scale(1.085 1.0)" font-size="21" text-anchor="middle">*</text>
<text transform="translate(1702.50 941.30) scale(1.085 1.07)" font-size="24.5" text-anchor="middle" stroke="#0a0a0a" stroke-width="0.3" stroke-linejoin="round">Veh</text>
<text transform="translate(1795.00 941.30) scale(1.085 1.07)" font-size="24.5" text-anchor="middle" stroke="#0a0a0a" stroke-width="0.3" stroke-linejoin="round">IL-1<tspan font-family='"Liberation Serif", serif' font-size='1.12em'>β</tspan></text>
<text transform="translate(1795.00 971.30) scale(1.085 1.07)" font-size="24.5" text-anchor="middle" stroke="#0a0a0a" stroke-width="0.3" stroke-linejoin="round">(10ng/ml)</text>
<!-- d3 IL-10 -->
<line x1="1266.00" y1="1052.80" x2="1266.00" y2="1286.60" stroke="#0a0a0a" stroke-width="4.4"/>
<line x1="1249.50" y1="1284.40" x2="1492.50" y2="1284.40" stroke="#0a0a0a" stroke-width="4.4"/>
<line x1="1249.50" y1="1055.00" x2="1266.00" y2="1055.00" stroke="#0a0a0a" stroke-width="4.4"/>
<text transform="translate(1244.10 1064.55) scale(1.1 1.07)" font-size="25.5" text-anchor="end" stroke="#0a0a0a" stroke-width="0.3" stroke-linejoin="round">0.8</text>
<line x1="1249.50" y1="1112.35" x2="1266.00" y2="1112.35" stroke="#0a0a0a" stroke-width="4.4"/>
<text transform="translate(1244.10 1121.90) scale(1.1 1.07)" font-size="25.5" text-anchor="end" stroke="#0a0a0a" stroke-width="0.3" stroke-linejoin="round">0.6</text>
<line x1="1249.50" y1="1169.70" x2="1266.00" y2="1169.70" stroke="#0a0a0a" stroke-width="4.4"/>
<text transform="translate(1244.10 1179.25) scale(1.1 1.07)" font-size="25.5" text-anchor="end" stroke="#0a0a0a" stroke-width="0.3" stroke-linejoin="round">0.4</text>
<line x1="1249.50" y1="1227.05" x2="1266.00" y2="1227.05" stroke="#0a0a0a" stroke-width="4.4"/>
<text transform="translate(1244.10 1236.60) scale(1.1 1.07)" font-size="25.5" text-anchor="end" stroke="#0a0a0a" stroke-width="0.3" stroke-linejoin="round">0.2</text>
<text transform="translate(1244.10 1293.95) scale(1.1 1.07)" font-size="25.5" text-anchor="end" stroke="#0a0a0a" stroke-width="0.3" stroke-linejoin="round">0.0</text>
<text transform="translate(1378.50 1020.50) scale(1.1 1.07)" font-size="25.5" text-anchor="middle">IL-10</text>
<text transform="translate(1182.30 1170.00) rotate(-90) scale(1.1 1.07)" font-size="25.5" text-anchor="middle" stroke="#0a0a0a" stroke-width="0.3" stroke-linejoin="round">pg/mL</text>
<line x1="1332.75" y1="1215.30" x2="1332.75" y2="1271.50" stroke="#6B9ACE" stroke-width="2.0"/>
<line x1="1316.55" y1="1215.30" x2="1348.95" y2="1215.30" stroke="#6B9ACE" stroke-width="2.0"/>
<line x1="1316.55" y1="1271.50" x2="1348.95" y2="1271.50" stroke="#6B9ACE" stroke-width="2.0"/>
<line x1="1299.75" y1="1243.30" x2="1365.75" y2="1243.30" stroke="#6B9ACE" stroke-width="4.1"/>
<circle cx="1324.30" cy="1227.50" r="4.4" fill="#6B9ACE"/>
<circle cx="1341.30" cy="1227.50" r="4.4" fill="#6B9ACE"/>
<circle cx="1332.75" cy="1276.50" r="4.4" fill="#6B9ACE"/>
<line x1="1431.75" y1="1098.00" x2="1431.75" y2="1174.50" stroke="#E96125" stroke-width="2.0"/>
<line x1="1415.35" y1="1098.00" x2="1448.15" y2="1098.00" stroke="#E96125" stroke-width="2.0"/>
<line x1="1415.35" y1="1174.50" x2="1448.15" y2="1174.50" stroke="#E96125" stroke-width="2.0"/>
<line x1="1398.75" y1="1136.80" x2="1464.75" y2="1136.80" stroke="#E96125" stroke-width="4.1"/>
<circle cx="1431.75" cy="1104.30" r="4.4" fill="#E96125"/>
<circle cx="1431.75" cy="1127.00" r="4.4" fill="#E96125"/>
<circle cx="1431.75" cy="1178.80" r="4.4" fill="#E96125"/>
<text transform="translate(1432.50 1096.00) scale(1.1 1.0)" font-size="21" text-anchor="middle">*</text>
<text transform="translate(1332.00 1310.00) scale(1.1 1.07)" font-size="25.5" text-anchor="middle" stroke="#0a0a0a" stroke-width="0.3" stroke-linejoin="round">Veh</text>
<text transform="translate(1432.00 1310.00) scale(1.1 1.07)" font-size="25.5" text-anchor="middle" stroke="#0a0a0a" stroke-width="0.3" stroke-linejoin="round">IL-1<tspan font-family='"Liberation Serif", serif' font-size='1.12em'>β</tspan></text>
<text transform="translate(1432.00 1342.50) scale(1.1 1.07)" font-size="25.5" text-anchor="middle" stroke="#0a0a0a" stroke-width="0.3" stroke-linejoin="round">(10ng/ml)</text>
<!-- d4 MCP-3 -->
<line x1="1638.00" y1="1052.80" x2="1638.00" y2="1286.60" stroke="#0a0a0a" stroke-width="4.4"/>
<line x1="1621.30" y1="1284.40" x2="1872.00" y2="1284.40" stroke="#0a0a0a" stroke-width="4.4"/>
<line x1="1621.30" y1="1055.00" x2="1638.00" y2="1055.00" stroke="#0a0a0a" stroke-width="4.4"/>
<text transform="translate(1615.90 1064.55) scale(1.1 1.07)" font-size="25.5" text-anchor="end" stroke="#0a0a0a" stroke-width="0.3" stroke-linejoin="round">200</text>
<line x1="1621.30" y1="1112.35" x2="1638.00" y2="1112.35" stroke="#0a0a0a" stroke-width="4.4"/>
<text transform="translate(1615.90 1121.90) scale(1.1 1.07)" font-size="25.5" text-anchor="end" stroke="#0a0a0a" stroke-width="0.3" stroke-linejoin="round">150</text>
<line x1="1621.30" y1="1169.70" x2="1638.00" y2="1169.70" stroke="#0a0a0a" stroke-width="4.4"/>
<text transform="translate(1615.90 1179.25) scale(1.1 1.07)" font-size="25.5" text-anchor="end" stroke="#0a0a0a" stroke-width="0.3" stroke-linejoin="round">100</text>
<line x1="1621.30" y1="1227.05" x2="1638.00" y2="1227.05" stroke="#0a0a0a" stroke-width="4.4"/>
<text transform="translate(1615.90 1236.60) scale(1.1 1.07)" font-size="25.5" text-anchor="end" stroke="#0a0a0a" stroke-width="0.3" stroke-linejoin="round">50</text>
<text transform="translate(1615.90 1293.95) scale(1.1 1.07)" font-size="25.5" text-anchor="end" stroke="#0a0a0a" stroke-width="0.3" stroke-linejoin="round">0</text>
<text transform="translate(1746.00 1020.50) scale(1.1 1.07)" font-size="25.5" text-anchor="middle">MCP-3</text>
<text transform="translate(1547.30 1170.50) rotate(-90) scale(1.1 1.07)" font-size="25.5" text-anchor="middle" stroke="#0a0a0a" stroke-width="0.3" stroke-linejoin="round">pg/mL</text>
<line x1="1705.00" y1="1239.50" x2="1705.00" y2="1278.00" stroke="#6B9ACE" stroke-width="2.0"/>
<line x1="1688.80" y1="1239.50" x2="1721.20" y2="1239.50" stroke="#6B9ACE" stroke-width="2.0"/>
<line x1="1688.80" y1="1278.00" x2="1721.20" y2="1278.00" stroke="#6B9ACE" stroke-width="2.0"/>
<line x1="1672.00" y1="1258.80" x2="1738.00" y2="1258.80" stroke="#6B9ACE" stroke-width="4.1"/>
<circle cx="1705.00" cy="1236.30" r="4.4" fill="#6B9ACE"/>
<circle cx="1696.50" cy="1270.50" r="4.4" fill="#6B9ACE"/>
<circle cx="1713.00" cy="1269.50" r="4.4" fill="#6B9ACE"/>
<line x1="1803.75" y1="1081.30" x2="1803.75" y2="1167.50" stroke="#E96125" stroke-width="2.0"/>
<line x1="1787.55" y1="1081.30" x2="1819.95" y2="1081.30" stroke="#E96125" stroke-width="2.0"/>
<line x1="1787.55" y1="1167.50" x2="1819.95" y2="1167.50" stroke="#E96125" stroke-width="2.0"/>
<line x1="1770.75" y1="1124.30" x2="1836.75" y2="1124.30" stroke="#E96125" stroke-width="4.1"/>
<circle cx="1803.75" cy="1075.00" r="4.4" fill="#E96125"/>
<circle cx="1803.75" cy="1144.50" r="4.4" fill="#E96125"/>
<circle cx="1803.75" cy="1154.50" r="4.4" fill="#E96125"/>
<text transform="translate(1704.00 1310.00) scale(1.1 1.07)" font-size="25.5" text-anchor="middle" stroke="#0a0a0a" stroke-width="0.3" stroke-linejoin="round">Veh</text>
<text transform="translate(1803.70 1310.00) scale(1.1 1.07)" font-size="25.5" text-anchor="middle" stroke="#0a0a0a" stroke-width="0.3" stroke-linejoin="round">IL-1<tspan font-family='"Liberation Serif", serif' font-size='1.12em'>β</tspan></text>
<text transform="translate(1803.70 1342.50) scale(1.1 1.07)" font-size="25.5" text-anchor="middle" stroke="#0a0a0a" stroke-width="0.3" stroke-linejoin="round">(10ng/ml)</text>
<!-- panel e -->
<rect x="1180.60" y="1630.00" width="30.00" height="357.40" fill="#E32528"/>
<rect x="1224.85" y="1637.00" width="30.00" height="350.40" fill="#E32528"/>
<rect x="1269.10" y="1749.40" width="30.00" height="238.00" fill="#E32528"/>
<rect x="1313.35" y="1793.00" width="30.00" height="194.40" fill="#E32528"/>
<rect x="1357.60" y="1803.30" width="30.00" height="184.10" fill="#E32528"/>
<rect x="1401.85" y="1818.00" width="30.00" height="169.40" fill="#E32528"/>
<rect x="1446.10" y="1823.00" width="30.00" height="164.40" fill="#E32528"/>
<rect x="1490.35" y="1825.80" width="30.00" height="161.60" fill="#E32528"/>
<rect x="1534.60" y="1872.10" width="30.00" height="115.30" fill="#E32528"/>
<rect x="1578.85" y="1876.60" width="30.00" height="110.80" fill="#E32528"/>
<rect x="1623.10" y="1878.00" width="30.00" height="109.40" fill="#E32528"/>
<rect x="1667.35" y="1883.00" width="30.00" height="104.40" fill="#E32528"/>
<rect x="1711.60" y="1892.20" width="30.00" height="95.20" fill="#E32528"/>
<rect x="1755.85" y="1896.40" width="30.00" height="91.00" fill="#E32528"/>
<rect x="1800.10" y="1903.10" width="30.00" height="84.30" fill="#E32528"/>
<rect x="1844.35" y="1940.00" width="30.00" height="47.40" fill="#E32528"/>
<rect x="1888.60" y="1869.60" width="30.00" height="117.80" fill="#E32528"/>
<text transform="translate(1201.60 2040.00) rotate(-45) scale(1.0 1.0)" font-size="28.25" text-anchor="end">Defense Response</text>
<text transform="translate(1245.85 2040.00) rotate(-45) scale(1.0 1.0)" font-size="28.25" text-anchor="end">Humoral Immune Response</text>
<text transform="translate(1290.10 2040.00) rotate(-45) scale(1.0 1.0)" font-size="28.25" text-anchor="end">Complement Activation</text>
<text transform="translate(1334.35 2040.00) rotate(-45) scale(1.0 1.0)" font-size="28.25" text-anchor="end">Positive Regulation Of Immune System Process</text>
<text transform="translate(1378.60 2040.00) rotate(-45) scale(1.0 1.0)" font-size="28.25" text-anchor="end">Leukocyte Mediated Immunity</text>
<text transform="translate(1422.85 2040.00) rotate(-45) scale(1.0 1.0)" font-size="28.25" text-anchor="end">Regulation Of Immune Effector Process</text>
<text transform="translate(1467.10 2040.00) rotate(-45) scale(1.0 1.0)" font-size="28.25" text-anchor="end">Regulation Of Immune Response</text>
<text transform="translate(1511.35 2040.00) rotate(-45) scale(1.0 1.0)" font-size="28.25" text-anchor="end">Adaptive Immune Response</text>
<text transform="translate(1555.60 2040.00) rotate(-45) scale(1.0 1.0)" font-size="28.25" text-anchor="end">Positive Regulation Of Immune Response</text>
<text transform="translate(1599.85 2040.00) rotate(-45) scale(1.0 1.0)" font-size="28.25" text-anchor="end">Regulation Of Leukocyte Migration</text>
<text transform="translate(1644.10 2040.00) rotate(-45) scale(1.0 1.0)" font-size="28.25" text-anchor="end">Positive Regulation Of Leukocyte Migration</text>
<text transform="translate(1688.35 2040.00) rotate(-45) scale(1.0 1.0)" font-size="28.25" text-anchor="end">Negative Regulation Of Immune System Process</text>
<text transform="translate(1732.60 2040.00) rotate(-45) scale(1.0 1.0)" font-size="28.25" text-anchor="end">Leukocyte Chemotaxis</text>
<text transform="translate(1776.85 2040.00) rotate(-45) scale(1.0 1.0)" font-size="28.25" text-anchor="end">Innate Immune Response</text>
<text transform="translate(1821.10 2040.00) rotate(-45) scale(1.0 1.0)" font-size="28.25" text-anchor="end">Myeloid Leukocyte Migration</text>
<text transform="translate(1865.35 2040.00) rotate(-45) scale(1.0 1.0)" font-size="28.25" text-anchor="end">Negative Regulation Of Immune Response</text>
<text transform="translate(1909.60 2040.00) rotate(-45) scale(1.0 1.0)" font-size="28.25" text-anchor="end">Extracellular Structure Organization</text>
<line x1="1166.40" y1="1469.20" x2="1166.40" y2="1990.00" stroke="#0a0a0a" stroke-width="5.2"/>
<line x1="1145.00" y1="1987.40" x2="1941.30" y2="1987.40" stroke="#0a0a0a" stroke-width="5.2"/>
<line x1="1145.00" y1="1471.80" x2="1166.40" y2="1471.80" stroke="#0a0a0a" stroke-width="5.2"/>
<text transform="translate(1138.50 1483.30) scale(1.0 1.0)" font-size="35" text-anchor="end">15</text>
<line x1="1145.00" y1="1643.67" x2="1166.40" y2="1643.67" stroke="#0a0a0a" stroke-width="5.2"/>
<text transform="translate(1138.50 1655.17) scale(1.0 1.0)" font-size="35" text-anchor="end">10</text>
<line x1="1145.00" y1="1815.53" x2="1166.40" y2="1815.53" stroke="#0a0a0a" stroke-width="5.2"/>
<text transform="translate(1138.50 1827.03) scale(1.0 1.0)" font-size="35" text-anchor="end">5</text>
<text transform="translate(1138.50 1998.90) scale(1.0 1.0)" font-size="35" text-anchor="end">0</text>
<text transform="translate(1073.50 1731.00) rotate(-90) scale(1.0 1.0)" font-size="36.4" text-anchor="middle">-Log(Benjamini-Hochberg)</text>
<line x1="1179.30" y1="1601.30" x2="1859.10" y2="1601.30" stroke="#0a0a0a" stroke-width="7.5"/>
<line x1="1875.10" y1="1601.30" x2="1931.80" y2="1601.30" stroke="#0a0a0a" stroke-width="7.5"/>
<text transform="translate(1492.50 1586.50) scale(1.0 1.0)" font-size="35.8" text-anchor="middle">Immune</text>
<text transform="translate(1902.00 1541.90) scale(1.0 1.0)" font-size="35.7" text-anchor="middle">Extracellular</text>
<text transform="translate(1901.30 1584.70) scale(1.0 1.0)" font-size="35.7" text-anchor="middle">Matrix</text>
<text transform="translate(937.50 2075.00) scale(1.0 1.0)" font-size="36.4">GO Term</text>
</svg>
</body>
</html>
